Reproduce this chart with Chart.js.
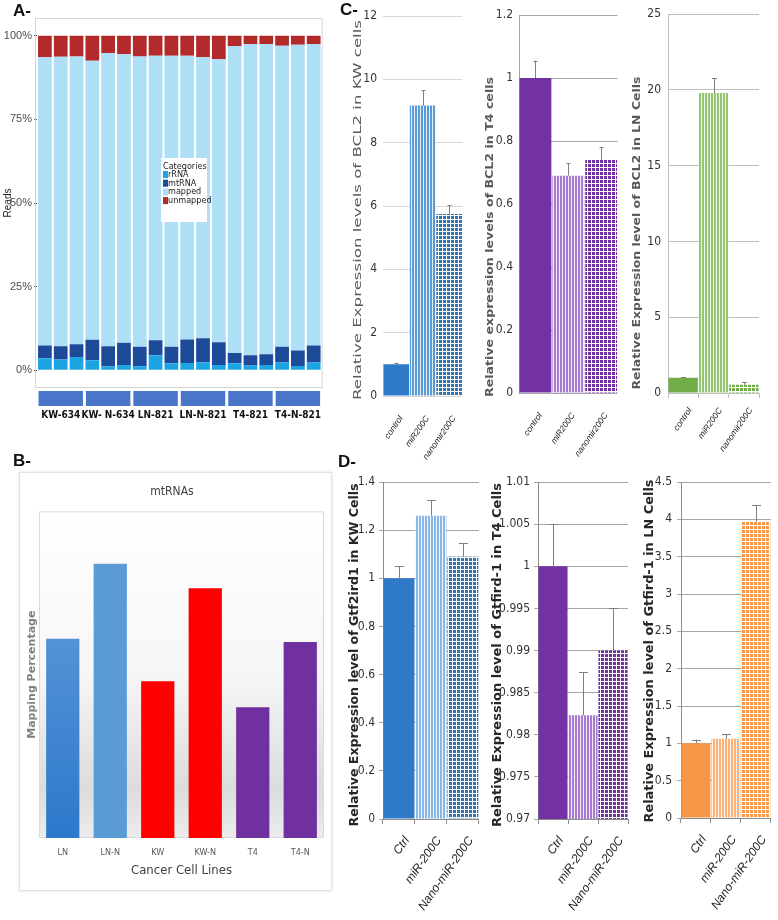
<!DOCTYPE html>
<html>
<head>
<meta charset="utf-8">
<script src="https://cdn.jsdelivr.net/npm/chart.js@4.4.0/dist/chart.umd.min.js"></script>
<style>
body{margin:0;background:#fff;width:778px;height:920px;position:relative;overflow:hidden;font-family:"Liberation Sans",Arial,sans-serif}
canvas{position:absolute}
.lbl{position:absolute;font:bold 17px "Liberation Sans",Arial,sans-serif;color:#111;z-index:5}
.box{position:absolute;border:1px solid #e2e2e2;box-shadow:0 0 3px rgba(0,0,0,.12)}
</style>
</head>
<body>
<div class="box" style="left:19px;top:472px;width:311px;height:417px"></div>
<canvas id="chartA" width="336" height="428" style="left:0;top:0"></canvas>
<canvas id="chartB" width="311" height="417" style="left:20px;top:473px"></canvas>
<canvas id="chartC1" width="128" height="460" style="left:343px;top:0"></canvas>
<canvas id="chartC2" width="147" height="460" style="left:476px;top:0"></canvas>
<canvas id="chartC3" width="146" height="460" style="left:624px;top:0"></canvas>
<canvas id="chartD1" width="144" height="458" style="left:341px;top:462px"></canvas>
<canvas id="chartD2" width="155" height="458" style="left:485px;top:462px"></canvas>
<canvas id="chartD3" width="140" height="458" style="left:638px;top:462px"></canvas>
<div class="lbl" style="left:13px;top:1px">A-</div>
<div class="lbl" style="left:13px;top:451px">B-</div>
<div class="lbl" style="left:340px;top:0px">C-</div>
<div class="lbl" style="left:338px;top:452px">D-</div>
<script>
// ---- panel A: read composition per sample (%)
const groupLabels = ['KW-634', 'KW- N-634', 'LN-821', 'LN-N-821', 'T4-821', 'T4-N-821'];
const sampleLabels = ['KW-634 r1', 'KW-634 r2', 'KW-634 r3', 'KW-N-634 r1', 'KW-N-634 r2', 'KW-N-634 r3',
  'LN-821 r1', 'LN-821 r2', 'LN-821 r3', 'LN-N-821 r1', 'LN-N-821 r2', 'LN-N-821 r3',
  'T4-821 r1', 'T4-821 r2', 'T4-821 r3', 'T4-N-821 r1', 'T4-N-821 r2', 'T4-N-821 r3'];
const rRNA = [3.6, 3.2, 4.0, 3.0, 1.2, 1.6, 1.2, 4.5, 2.1, 2.2, 2.4, 1.6, 2.1, 1.4, 1.6, 2.3, 1.3, 2.3];
const mtRNA = [3.8, 4.0, 3.8, 6.1, 6.0, 6.6, 5.8, 4.5, 4.9, 7.0, 7.2, 6.8, 3.1, 3.1, 3.2, 4.7, 4.6, 5.1];
const mapped = [86.2, 86.5, 86.0, 83.4, 87.6, 86.3, 86.8, 85.0, 87.0, 84.8, 84.0, 84.6, 91.7, 93.0, 92.7, 90.0, 91.4, 90.1];
const unmapped = [6.4, 6.3, 6.2, 7.5, 5.2, 5.5, 6.2, 6.0, 6.0, 6.0, 6.4, 7.0, 3.1, 2.5, 2.5, 3.0, 2.7, 2.5];

// ---- panel B: mtRNA mapping percentage
const cellLines = ['LN', 'LN-N', 'KW', 'KW-N', 'T4', 'T4-N'];
const mtMapping = [6.1, 8.4, 4.8, 7.65, 4.0, 6.0];

// ---- panel C: BCL2 expression
const bclLabels = ['control', 'miR200C', 'nanomir200C'];
const bclKW = [1.0, 9.17, 5.75];
const bclKWErr = [0.05, 0.48, 0.28];
const bclT4 = [1.0, 0.69, 0.74];
const bclT4Err = [0.055, 0.04, 0.04];
const bclLN = [1.0, 19.8, 0.55];
const bclLNErr = [0.04, 1.0, 0.15];

// ---- panel D: Gtf2ird1 expression
const gtfLabels = ['Ctrl', 'miR-200C', 'Nano-miR-200C'];
const gtfKW = [1.0, 1.26, 1.09];
const gtfKWErr = [0.05, 0.065, 0.055];
const gtfT4 = [1.0, 0.9823, 0.99];
const gtfT4Err = [0.005, 0.0051, 0.005];
const gtfLN = [1.0, 1.06, 3.97];
const gtfLNErr = [0.05, 0.065, 0.22];

const NARROW = '"Liberation Sans Narrow", "DejaVu Sans Condensed", "Liberation Sans", sans-serif';
const SANS = '"Liberation Sans", Arial, sans-serif';
const DEJA = '"DejaVu Sans", Verdana, sans-serif';

function stripes(col) {
  const c = document.createElement('canvas');
  c.width = 3; c.height = 4;
  const x = c.getContext('2d');
  x.fillStyle = col; x.fillRect(0, 0, 3, 4);
  x.fillStyle = 'rgba(255,255,255,0.85)'; x.fillRect(2, 0, 1, 4);
  return x.createPattern(c, 'repeat');
}
function dots(col) {
  const c = document.createElement('canvas');
  c.width = 4; c.height = 4;
  const x = c.getContext('2d');
  x.fillStyle = '#fff'; x.fillRect(0, 0, 4, 4);
  x.fillStyle = col; x.fillRect(0, 0, 3, 3);
  return x.createPattern(c, 'repeat');
}

const errorBars = {
  id: 'errorBars',
  afterDatasetsDraw(chart) {
    const y = chart.scales.y, ctx = chart.ctx;
    const cap = chart.options.capWidth || 2;
    chart.data.datasets.forEach((ds, di) => {
      if (!ds.errorUp) return;
      chart.getDatasetMeta(di).data.forEach((bar, i) => {
        const y0 = y.getPixelForValue(ds.data[i]);
        const y1 = y.getPixelForValue(ds.data[i] + ds.errorUp[i]);
        ctx.save();
        ctx.strokeStyle = '#7f7f7f';
        ctx.lineWidth = 1;
        ctx.beginPath();
        ctx.moveTo(Math.round(bar.x) + 0.5, y0);
        ctx.lineTo(Math.round(bar.x) + 0.5, y1);
        ctx.moveTo(Math.round(bar.x) - cap, Math.round(y1) + 0.5);
        ctx.lineTo(Math.round(bar.x) + cap + 1, Math.round(y1) + 0.5);
        ctx.stroke();
        ctx.restore();
      });
    });
  }
};

// rotated axis title, stretched along its length like the scanned figure
const vTitle = {
  id: 'vTitle',
  afterDraw(chart) {
    const o = chart.options.plugins.vTitle;
    if (!o || !o.text) return;
    const ctx = chart.ctx;
    ctx.save();
    ctx.font = o.font;
    const w = ctx.measureText(o.text).width;
    ctx.translate(o.x, o.y);
    ctx.rotate(-Math.PI / 2);
    ctx.scale(o.len / w, 1);
    ctx.fillStyle = o.color;
    ctx.textAlign = 'center';
    ctx.textBaseline = 'middle';
    ctx.fillText(o.text, 0, 0);
    ctx.restore();
  }
};

function fmt(v) { return String(Number(v.toFixed(4))); }

function smallChart(id, o) {
  return new Chart(document.getElementById(id), {
    type: 'bar',
    data: {
      labels: o.labels,
      datasets: [{
        data: o.values, errorUp: o.errs, backgroundColor: o.fills,
        borderWidth: 0, barPercentage: 0.97, categoryPercentage: 1
      }]
    },
    options: {
      responsive: false, animation: false, capWidth: o.cap,
      layout: { padding: { top: o.padTop, right: o.padRight, left: 0, bottom: 0 } },
      plugins: { legend: { display: false }, tooltip: { enabled: false }, vTitle: o.vt },
      scales: {
        x: {
          grid: { display: o.xTicks, drawOnChartArea: false, tickLength: 5, color: o.axisColor },
          border: { display: o.xBorder, color: o.axisColor },
          ticks: { font: o.xFont, color: '#222', minRotation: 55, maxRotation: 55, autoSkip: false, padding: o.xPad, labelOffset: o.xOff },
          afterFit: s => { s.height = o.xHeight; }
        },
        y: {
          min: o.min, max: o.max,
          ticks: { stepSize: o.step, callback: fmt, font: { family: NARROW, size: 12 }, color: '#333', padding: o.yPad },
          grid: { color: o.gridColor, drawTicks: o.yTicks, tickLength: 4 },
          border: { display: o.yBorder, color: o.axisColor },
          afterFit: s => { s.width = o.yWidth; }
        }
      }
    },
    plugins: [errorBars, vTitle]
  });
}

// ---------------- panel A
const frame = {
  id: 'frame',
  beforeDatasetsDraw(chart) {
    const a = chart.chartArea, ctx = chart.ctx;
    ctx.save();
    ctx.strokeStyle = '#d4d4d4';
    ctx.strokeRect(a.left - 1.5, a.top - 0.5, a.width + 2, a.height + 1);
    ctx.restore();
  }
};
const strips = {
  id: 'strips',
  afterDraw(chart) {
    const x = chart.scales.x, a = chart.chartArea, ctx = chart.ctx;
    const slot = x.getPixelForValue(1) - x.getPixelForValue(0);
    ctx.save();
    ctx.fillStyle = '#4a76c9';
    groupLabels.forEach((g, i) => {
      const x1 = x.getPixelForValue(i * 3) - slot / 2 + 1.5;
      const x2 = x.getPixelForValue(i * 3 + 2) + slot / 2 - 1.5;
      ctx.fillRect(x1, a.bottom + 4, x2 - x1, 15);
    });
    ctx.restore();
  }
};
const boxLegend = {
  id: 'boxLegend',
  afterDraw(chart) {
    const a = chart.chartArea, ctx = chart.ctx;
    const bx = a.left + 124, by = a.top + 139;
    ctx.save();
    ctx.fillStyle = '#fff';
    ctx.fillRect(bx, by, 46, 64);
    ctx.font = '9px ' + NARROW;
    ctx.textBaseline = 'middle';
    ctx.fillStyle = '#222';
    ctx.fillText('Categories', bx + 2, by + 9);
    chart.data.datasets.forEach((ds, i) => {
      const yy = by + 16.5 + i * 8.7;
      ctx.fillStyle = ds.backgroundColor;
      ctx.fillRect(bx + 2, yy - 3.5, 5, 7);
      ctx.fillStyle = '#222';
      ctx.fillText(ds.label, bx + 7, yy);
    });
    ctx.restore();
  }
};
new Chart(document.getElementById('chartA'), {
  type: 'bar',
  data: {
    labels: sampleLabels,
    datasets: [
      { label: 'rRNA', data: rRNA, backgroundColor: '#1da4e4' },
      { label: 'mtRNA', data: mtRNA, backgroundColor: '#1d4a99' },
      { label: 'mapped', data: mapped, backgroundColor: '#aedff6' },
      { label: 'unmapped', data: unmapped, backgroundColor: '#b32a2a' }
    ]
  },
  options: {
    responsive: false, animation: false,
    datasets: { bar: { barPercentage: 0.87, categoryPercentage: 1, borderWidth: 0 } },
    layout: { padding: { top: 19, right: 11, left: 0, bottom: 0 } },
    plugins: { legend: { display: false }, tooltip: { enabled: false } },
    scales: {
      x: {
        stacked: true,
        grid: { display: false, drawTicks: false }, border: { display: false },
        ticks: {
          autoSkip: false, maxRotation: 0, padding: 22, color: '#111',
          font: { family: NARROW, size: 10, weight: 'bold' },
          callback: (v, i) => i % 3 === 1 ? groupLabels[(i - 1) / 3] : ''
        },
        afterFit: s => { s.height = 41; }
      },
      y: {
        stacked: true, min: -5, max: 105,
        afterBuildTicks: s => { s.ticks = [0, 25, 50, 75, 100].map(v => ({ value: v })); },
        ticks: { callback: v => v + '%', font: { family: SANS, size: 11 }, color: '#4d4d4d', padding: 2 },
        grid: { drawOnChartArea: false, tickLength: 3, color: '#555' },
        border: { display: false },
        title: { display: true, text: 'Reads', font: { family: SANS, size: 10 }, color: '#222', padding: { top: 2, bottom: 0 } },
        afterFit: s => { s.width = 37; }
      }
    }
  },
  plugins: [frame, strips, boxLegend]
});

// ---------------- panel B
const plotBg = {
  id: 'plotBg',
  beforeDraw(chart) {
    const a = chart.chartArea, ctx = chart.ctx;
    const g = ctx.createLinearGradient(0, a.top, 0, a.bottom);
    g.addColorStop(0, '#ffffff');
    g.addColorStop(0.5, '#f6f6f6');
    g.addColorStop(0.85, '#dcdcdc');
    g.addColorStop(1, '#ececec');
    ctx.save();
    ctx.fillStyle = g;
    ctx.fillRect(a.left, a.top, a.width, a.height);
    ctx.strokeStyle = '#dadada';
    ctx.strokeRect(a.left + 0.5, a.top + 0.5, a.width - 1, a.height - 1);
    ctx.restore();
  }
};
const lineColors = ['#3a80c8', '#5b9bd5', '#ff0000', '#ff0000', '#7030a0', '#7030a0'];
new Chart(document.getElementById('chartB'), {
  type: 'bar',
  data: {
    labels: cellLines,
    datasets: [{
      data: mtMapping,
      backgroundColor: c => {
        const a = c.chart.chartArea;
        if (c.dataIndex !== 0 || !a) return lineColors[c.dataIndex];
        const g = c.chart.ctx.createLinearGradient(0, a.bottom, 0, a.top);
        g.addColorStop(0, '#2d78cc');
        g.addColorStop(1, '#6aa3da');
        return g;
      },
      borderWidth: 0, barPercentage: 0.7, categoryPercentage: 1
    }]
  },
  options: {
    responsive: false, animation: false,
    layout: { padding: { top: 0, right: 7, left: 0, bottom: 0 } },
    plugins: {
      legend: { display: false }, tooltip: { enabled: false },
      title: { display: true, text: 'mtRNAs', font: { family: NARROW, size: 12, weight: 'normal' }, color: '#404040', padding: { top: 12, bottom: 12 } }
    },
    scales: {
      x: {
        grid: { display: false, drawTicks: false }, border: { display: false },
        ticks: { font: { family: NARROW, size: 9 }, color: '#595959', padding: 9 },
        title: { display: true, text: 'Cancer Cell Lines', font: { family: NARROW, size: 13 }, color: '#404040', padding: { top: 0, bottom: 12 } },
        afterFit: s => { s.height = 52; }
      },
      y: {
        min: 0, max: 10,
        ticks: { display: false }, grid: { display: false, drawTicks: false }, border: { display: false },
        title: { display: true, text: 'Mapping Percentage', font: { family: DEJA, size: 11, weight: 'bold' }, color: '#808080', padding: { top: 6, bottom: 0 } },
        afterFit: s => { s.width = 19; }
      }
    }
  },
  plugins: [plotBg]
});

// ---------------- panels C and D
const blue = '#2f7ac8', purple = '#7232a3', green = '#70ad47', orange = '#f79646';
const cX = { family: SANS, size: 8.5, style: 'italic' };
const dX = { family: SANS, size: 12, style: 'italic' };

smallChart('chartC1', {
  labels: bclLabels, values: bclKW, errs: bclKWErr,
  fills: [blue, stripes('#5b9bd5'), dots('#2e75b6')],
  min: 0, max: 12, step: 2, padTop: 16, padRight: 3, yWidth: 40, xHeight: 64,
  yPad: 6, yTicks: false, yBorder: false, xBorder: false, xTicks: false, xPad: 13, xOff: 5, cap: 1.5,
  gridColor: '#d9d9d9', axisColor: '#bfbfbf', xFont: cX,
  vt: { text: 'Relative Expression levels of BCL2 in KW cells', font: '11px ' + DEJA, color: '#595959', x: 15, y: 210, len: 380 }
});
smallChart('chartC2', {
  labels: bclLabels, values: bclT4, errs: bclT4Err,
  fills: [purple, stripes('#a77bd0'), dots('#7030a0')],
  min: 0, max: 1.2, step: 0.2, padTop: 15, padRight: 3, yWidth: 43, xHeight: 67,
  yPad: 6, yTicks: false, yBorder: true, xBorder: false, xTicks: false, xPad: 13, xOff: 5, cap: 1.5,
  gridColor: '#a6a6a6', axisColor: '#a6a6a6', xFont: cX,
  vt: { text: 'Relative expression levels of BCL2 in T4 cells', font: 'bold 11px ' + DEJA, color: '#595959', x: 14, y: 237, len: 320 }
});
smallChart('chartC3', {
  labels: bclLabels, values: bclLN, errs: bclLNErr,
  fills: [green, stripes('#93c572'), dots('#70ad47')],
  min: 0, max: 25, step: 5, padTop: 10, padRight: 11, yWidth: 44, xHeight: 67,
  yPad: 7, yTicks: false, yBorder: true, xBorder: true, xTicks: true, xPad: 8, xOff: 7, cap: 2,
  gridColor: '#bfbfbf', axisColor: '#bfbfbf', xFont: cX,
  vt: { text: 'Relative Expression level of BCL2 in LN Cells', font: 'bold 11px ' + DEJA, color: '#595959', x: 13, y: 233, len: 313 }
});
smallChart('chartD1', {
  labels: gtfLabels, values: gtfKW, errs: gtfKWErr,
  fills: [blue, stripes('#8ab8e6'), dots('#2e75b6')],
  min: 0, max: 1.4, step: 0.2, padTop: 20, padRight: 2, yWidth: 42, xHeight: 101,
  yPad: 4, yTicks: true, yBorder: true, xBorder: true, xTicks: true, xPad: 10, xOff: 8, cap: 4,
  gridColor: '#a6a6a6', axisColor: '#8c8c8c', xFont: dX,
  vt: { text: 'Relative Expression level of Gtf2ird1 in KW Cells', font: 'bold 12px ' + DEJA, color: '#262626', x: 14, y: 193, len: 343 }
});
smallChart('chartD2', {
  labels: gtfLabels, values: gtfT4, errs: gtfT4Err,
  fills: [purple, stripes('#a77bd0'), dots('#7030a0')],
  min: 0.97, max: 1.01, step: 0.005, padTop: 20, padRight: 12, yWidth: 53, xHeight: 101,
  yPad: 4, yTicks: true, yBorder: true, xBorder: true, xTicks: true, xPad: 10, xOff: 8, cap: 4,
  gridColor: '#a6a6a6', axisColor: '#8c8c8c', xFont: dX,
  vt: { text: 'Relative Expression level of Gtfird-1 in T4 Cells', font: 'bold 12px ' + DEJA, color: '#262626', x: 13, y: 193, len: 344 }
});
smallChart('chartD3', {
  labels: gtfLabels, values: gtfLN, errs: gtfLNErr,
  fills: [orange, stripes('#f9b27a'), dots('#f79646')],
  min: 0, max: 4.5, step: 0.5, padTop: 20, padRight: 2, yWidth: 43, xHeight: 102,
  yPad: 5, yTicks: true, yBorder: true, xBorder: true, xTicks: true, xPad: 10, xOff: 8, cap: 4,
  gridColor: '#a6a6a6', axisColor: '#8c8c8c', xFont: dX,
  vt: { text: 'Relative Expression level of Gtfird-1 in LN Cells', font: 'bold 12px ' + DEJA, color: '#262626', x: 12, y: 189, len: 343 }
});
</script>
</body>
</html>
